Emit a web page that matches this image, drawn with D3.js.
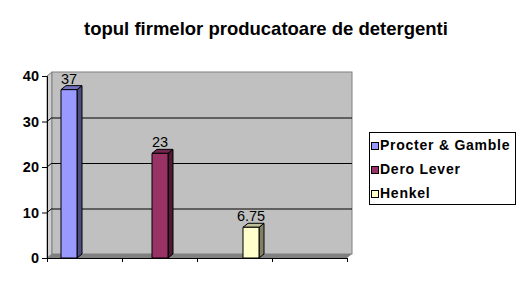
<!DOCTYPE html>
<html lang="ro">
<head>
    <meta charset="UTF-8">
    <title>topul firmelor producatoare de detergenti</title>
    <script src="https://d3js.org/d3.v7.min.js"></script>
    <style>
        body {
            margin: 0;
            padding: 0;
            background-color: #fff;
            font-family: Arial, "Liberation Sans", sans-serif;
        }
        svg { display: block; }
    </style>
</head>
<body>
    <svg id="chart" width="524" height="289"></svg>

    <script>
        // data
        const firms = ["Procter & Gamble", "Dero Lever", "Henkel"];
        const values = [37, 23, 6.75];
        const valueLabels = ["37", "23", "6.75"];
        const yTicks = [0, 10, 20, 30, 40];
        const xTickCount = 4;

        // face colours: front, side, top
        const colors = [
            { front: "#9999ff", side: "#4d4d80", top: "#7373bf" },
            { front: "#993366", side: "#4d1a33", top: "#73264d" },
            { front: "#ffffcc", side: "#808066", top: "#bfbf99" }
        ];

        const svg = d3.select("#chart");

        const x0 = 47, x1 = 347;
        const dx = 5, dy = -4;   // depth of the 3d box
        const barW = 16;

        const y = d3.scaleLinear().domain([0, 40]).range([258, 76]);
        const x = d3.scalePoint().domain(firms).range([69, 251]);
        const xt = d3.scaleLinear().domain([0, xTickCount]).range([x0, x1]);

        const yb = y(0);
        const yt = y(40);

        // title
        svg.append("text")
            .attr("x", 266)
            .attr("y", 35)
            .attr("text-anchor", "middle")
            .style("font-size", "18.5px")
            .style("font-weight", "bold")
            .text("topul firmelor producatoare de detergenti");

        const pts = p => p.map(d => d.join(",")).join(" ");

        // side wall
        svg.append("polygon")
            .attr("points", pts([[x0, yb], [x0, yt], [x0 + dx, yt + dy], [x0 + dx, yb + dy]]))
            .attr("fill", "#d0d0d0")
            .attr("stroke", "#808080")
            .attr("stroke-width", 1);

        // back wall
        svg.append("rect")
            .attr("x", x0 + dx)
            .attr("y", yt + dy)
            .attr("width", x1 - x0)
            .attr("height", yb - yt)
            .attr("fill", "#c0c0c0")
            .attr("stroke", "#808080")
            .attr("stroke-width", 1);

        // floor
        svg.append("polygon")
            .attr("points", pts([[x0, yb], [x0 + dx, yb + dy], [x1 + dx, yb + dy], [x1, yb]]))
            .attr("fill", "#808080");

        // gridlines on the walls
        const grid = svg.append("g").attr("stroke", "#000").attr("stroke-width", 1);
        yTicks.filter(v => v > 0 && v < 40).forEach(v => {
            grid.append("line")
                .attr("x1", x0 + dx).attr("x2", x1 + dx)
                .attr("y1", y(v) + dy + 0.5).attr("y2", y(v) + dy + 0.5);
            grid.append("line")
                .attr("x1", x0).attr("x2", x0 + dx)
                .attr("y1", y(v)).attr("y2", y(v) + dy);
        });

        // bars
        const bars = svg.append("g")
            .selectAll("g")
            .data(firms)
            .join("g");

        bars.each(function (d, i) {
            const g = d3.select(this);
            const xl = x(d) - barW / 2, xr = x(d) + barW / 2;
            const yv = y(values[i]);
            g.append("polygon")
                .attr("points", pts([[xr, yb], [xr, yv], [xr + dx, yv + dy], [xr + dx, yb + dy]]))
                .attr("fill", colors[i].side);
            g.append("polygon")
                .attr("points", pts([[xl, yv], [xl + dx, yv + dy], [xr + dx, yv + dy], [xr, yv]]))
                .attr("fill", colors[i].top);
            g.append("rect")
                .attr("x", xl).attr("y", yv)
                .attr("width", barW).attr("height", yb - yv)
                .attr("fill", colors[i].front);
            g.selectAll("*")
                .attr("stroke", "#000")
                .attr("stroke-width", 1)
                .attr("stroke-linejoin", "round");
        });

        // value labels
        svg.append("g")
            .selectAll("text")
            .data(firms)
            .join("text")
            .attr("x", d => x(d))
            .attr("y", (d, i) => y(values[i]) - 6)
            .attr("text-anchor", "middle")
            .style("font-size", "14.5px")
            .text((d, i) => valueLabels[i]);

        // y axis
        const yAxis = svg.append("g")
            .attr("transform", `translate(${x0},0)`)
            .call(d3.axisLeft(y).tickValues(yTicks).tickSize(5).tickPadding(3));
        yAxis.select(".domain").attr("stroke", "#000");
        yAxis.selectAll("text")
            .style("font-size", "14.5px")
            .style("font-weight", "bold")
            .style("font-family", "Arial, 'Liberation Sans', sans-serif");

        // x axis
        const xAxis = svg.append("g")
            .attr("transform", `translate(0,${yb})`)
            .call(d3.axisBottom(xt).ticks(xTickCount).tickSize(4).tickFormat(""));
        xAxis.select(".domain").attr("stroke", "#000");

        // legend
        const legend = svg.append("g").attr("transform", "translate(369,132)");
        legend.append("rect")
            .attr("x", 0.5).attr("y", 0.5)
            .attr("width", 146).attr("height", 72)
            .attr("fill", "#fff")
            .attr("stroke", "#000");

        const item = legend.selectAll("g.item")
            .data(firms)
            .join("g")
            .attr("class", "item")
            .attr("transform", (d, i) => `translate(0,${10 + i * 24})`);
        item.append("rect")
            .attr("x", 2.5).attr("y", 0.5)
            .attr("width", 7).attr("height", 7)
            .attr("fill", (d, i) => colors[i].front)
            .attr("stroke", "#000");
        item.append("text")
            .attr("x", 11)
            .attr("y", 8)
            .style("font-size", "14px")
            .style("font-weight", "bold")
            .style("letter-spacing", "0.75px")
            .text(d => d);
    </script>
</body>
</html>
